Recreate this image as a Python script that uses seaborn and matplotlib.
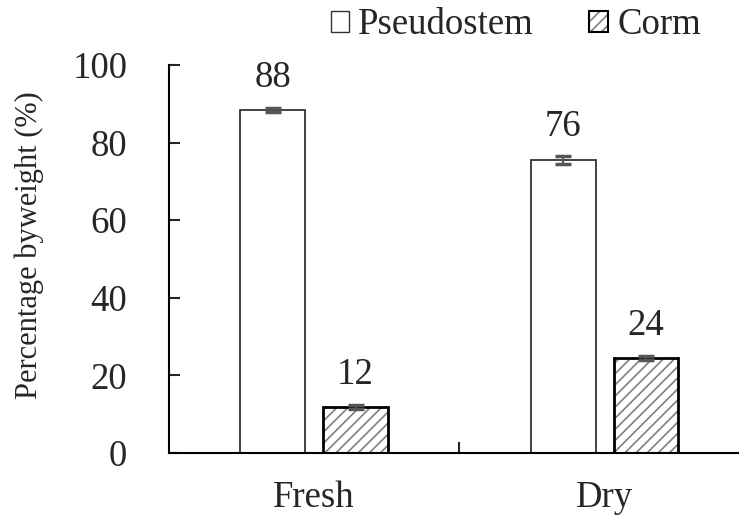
import matplotlib
matplotlib.use("Agg")
import matplotlib.pyplot as plt
from matplotlib.legend_handler import HandlerTuple
import seaborn as sns
import pandas as pd

# values
states = ["Fresh", "Dry"]
parts = ["Pseudostem", "Corm"]
pseudostem = [88.4, 75.6]
corm = [11.9, 24.5]
pseudostem_err = [0.4, 1.0]
corm_err = [0.5, 0.6]
y_ticks = [0, 20, 40, 60, 80, 100]

df = pd.DataFrame({
    "state": states * 2,
    "part": [parts[0]] * 2 + [parts[1]] * 2,
    "value": pseudostem + corm,
})
errs = [pseudostem_err, corm_err]

sns.set_style("white")
plt.rcParams["font.family"] = ["Liberation Serif", "DejaVu Serif"]
plt.rcParams["hatch.linewidth"] = 1.2

FS = 26.5
HATCH_GREY = "#808080"

fig = plt.figure(figsize=(7.39, 5.15), dpi=100)
ax = fig.add_axes([0.2287, 0.1204, 0.786, 0.7534])

sns.barplot(data=df, x="state", y="value", hue="part", order=states,
            hue_order=parts, errorbar=None, width=0.57, gap=0.216,
            palette=["white", "white"], ax=ax, legend=False)

bar_conts = list(ax.containers)
for i, cont in enumerate(bar_conts):
    for p in cont:
        if i == 0:
            p.set_edgecolor("#222222")
            p.set_linewidth(1.2)
        else:
            # grey hatch from the edge colour, black outline drawn on top
            p.set_edgecolor(HATCH_GREY)
            p.set_linewidth(0)
            p.set_hatch("///")
            ax.add_patch(plt.Rectangle(p.get_xy(), p.get_width(), p.get_height(),
                                       fill=False, edgecolor="black", linewidth=2.0,
                                       zorder=p.get_zorder() + 0.1))
    xs = [p.get_x() + p.get_width() / 2 for p in cont]
    hs = [p.get_height() for p in cont]
    ax.errorbar(xs, hs, yerr=errs[i], fmt="none", ecolor="#555555",
                elinewidth=1.5, capsize=6, capthick=2.5, zorder=5)
    ax.bar_label(cont, fmt="%.0f", padding=11, fontsize=FS)

ax.set_xlim(-0.5, 1.5)
ax.set_ylim(0, 100)
ax.set_yticks(y_ticks)
ax.tick_params(axis="y", direction="in", length=8, width=1.5, pad=30,
               labelsize=FS, left=True)
ax.set_xticks([0, 1])
ax.set_xticklabels(states)
ax.set_xticks([0.5], minor=True)
ax.tick_params(axis="x", which="major", length=0, pad=20, labelsize=FS)
ax.tick_params(axis="x", which="minor", direction="in", length=8, width=1.5,
               bottom=True)
ax.set_xlabel("")
ax.set_ylabel("Percentage byweight (%)", fontsize=22)
ax.yaxis.set_label_coords(-0.215, 0.536)

for s in ["top", "right"]:
    ax.spines[s].set_visible(False)
for s in ["left", "bottom"]:
    ax.spines[s].set_color("black")
    ax.spines[s].set_linewidth(1.5)

# legend above the plot
h_pseudo = plt.Rectangle((0, 0), 1, 1, facecolor="white", edgecolor="#333333", linewidth=1.0)
h_corm = (plt.Rectangle((0, 0), 1, 1, facecolor="white", edgecolor=HATCH_GREY, linewidth=0, hatch="///"),
          plt.Rectangle((0, 0), 1, 1, fill=False, edgecolor="black", linewidth=1.5))
fig.legend([h_pseudo, h_corm], parts, loc="center", bbox_to_anchor=(0.698, 0.951), ncol=2,
           frameon=False, fontsize=FS, handlelength=0.5, handleheight=0.5,
           handletextpad=0.25, columnspacing=1.5, borderaxespad=0,
           handler_map={tuple: HandlerTuple(ndivide=1, pad=0)})

fig.savefig("out.png", dpi=100)
